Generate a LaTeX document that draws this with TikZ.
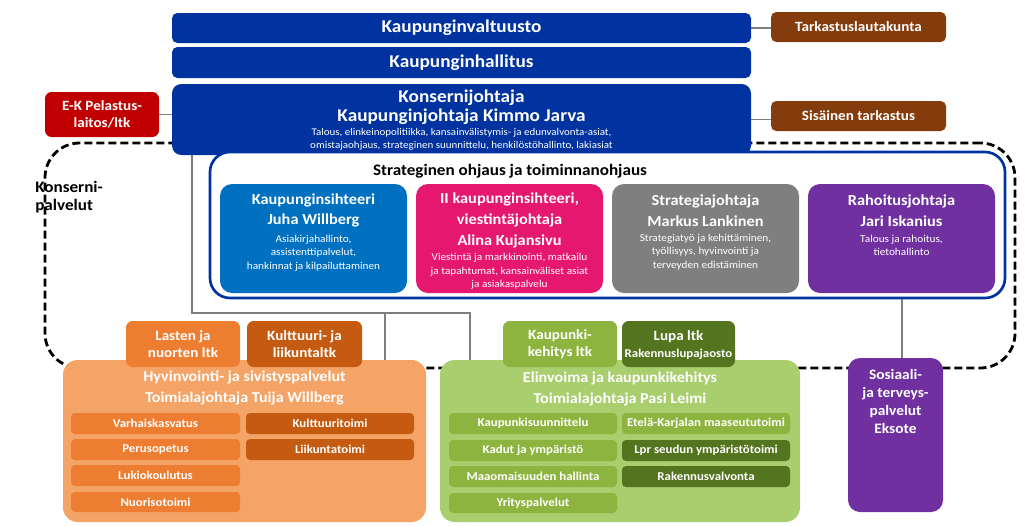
\documentclass[tikz,border=0pt]{standalone}
\usepackage{fontspec}
\setmainfont{Carlito}[FakeStretch=1.07]
\usetikzlibrary{fit}
\pgfdeclarelayer{bg}
\pgfsetlayers{bg,main}
\definecolor{dblue}{HTML}{0033A0}
\definecolor{brownbox}{HTML}{843C0C}
\definecolor{redbox}{HTML}{C00000}
\definecolor{midblue}{HTML}{0070C0}
\definecolor{pinkbox}{HTML}{E5176F}
\definecolor{greybox}{HTML}{7F7F7F}
\definecolor{purplebox}{HTML}{7030A0}
\definecolor{orlight}{HTML}{F4A466}
\definecolor{ormid}{HTML}{ED7D31}
\definecolor{ordark}{HTML}{C55A11}
\definecolor{grlight}{HTML}{A8CE6E}
\definecolor{grmid}{HTML}{8DB43E}
\definecolor{grdark}{HTML}{55741F}
\definecolor{connc}{HTML}{7F7F7F}
\newcommand\fntA{\bfseries\fontsize{13.5}{14.25}\selectfont}
\newcommand\fntB{\fontsize{7.7}{9.75}\selectfont}
\newcommand\fntC{\bfseries\fontsize{10.6}{12.75}\selectfont}
\newcommand\fntD{\bfseries\fontsize{11.45}{15.5}\selectfont}
\newcommand\fntE{\fontsize{7.9}{10.3}\selectfont}
\newcommand\fntF{\bfseries\fontsize{11.3}{15.75}\selectfont}
\newcommand\fntG{\bfseries\fontsize{9}{10}\selectfont}
\newcommand\fntH{\bfseries\fontsize{10.8}{13.5}\selectfont}
\begin{document}
\begin{tikzpicture}[x=0.75pt,y=-0.75pt,
  box/.style={inner sep=0pt, rounded corners=#1},
  box/.default=4pt,
  txt/.style={inner sep=0pt, text=white, align=center},
  conn/.style={draw=connc, line width=0.8pt},
  region/.style={draw=black, line width=2.1pt, dash pattern=on 6pt off 3pt, rounded corners=26pt, inner sep=0pt},
  frame/.style={draw=dblue, line width=2pt, fill=white, rounded corners=15pt, inner sep=0pt}]
\useasboundingbox (0,0) rectangle (1024,525);

% top row
\node[box, fill=dblue, fit={(172,13)(751,43)}, label={[txt,font=\fntA]center:Kaupunginvaltuusto}] (valt) {};
\node[box, fill=dblue, fit={(172,47)(751,78)}, label={[txt,font=\fntA]center:Kaupunginhallitus}] (hall) {};
\node[box=7pt, fill=dblue, fit={(172,84)(751,155)}] (konj) {};
\node[txt, font=\fntA] (konjt) at (461.5,107.5) {Konsernijohtaja\\Kaupunginjohtaja Kimmo Jarva};
\node[txt, font=\fntB] (konjs) at (461.5,139.5) {Talous, elinkeinopolitiikka, kansainvälistymis- ja edunvalvonta-asiat,\\omistajaohjaus, strateginen suunnittelu, henkilöstöhallinto, lakiasiat};
\node[box, fill=brownbox, fit={(771,12)(946,42)}, label={[txt,font=\fntC]center:Tarkastuslautakunta}] (tark) {};
\node[box, fill=brownbox, fit={(771,101)(946,131)}, label={[txt,font=\fntC]center:Sisäinen tarkastus}] (sis) {};
\node[box=5pt, fill=redbox, fit={(45,92)(159,137)}, label={[txt,font=\fntC]center:E-K Pelastus-\\laitos/ltk}] (ek) {};

% konsernipalvelut region
\begin{pgfonlayer}{bg}
\node[region, fit={(45,143)(1015,368)}] (kp) {};
\end{pgfonlayer}
\node[inner sep=0pt, align=left, anchor=west, font=\bfseries\fontsize{12}{13.5}\selectfont] (kplbl) at (35,197) {Konserni-\\palvelut};

% strategic frame
\node[frame, fit={(210,152)(1005,298)}] (sof) {};
\node[inner sep=0pt, font=\bfseries\fontsize{12}{13}\selectfont] (soft) at (510,171) {Strateginen ohjaus ja toiminnanohjaus};

\node[box=9pt, fill=midblue, fit={(220,184)(407,293)}] (ks) {};
\node[txt, font=\fntD] (kst) at (313.5,210.5) {Kaupunginsihteeri\\Juha Willberg};
\node[txt, font=\fntE] (kss) at (313.5,253) {Asiakirjahallinto,\\assistenttipalvelut,\\hankinnat ja kilpailuttaminen};

\node[box=9pt, fill=pinkbox, fit={(416,184)(603,293)}] (ksb) {};
\node[txt, font=\fntD] (ksbt) at (509.5,220.5) {II kaupunginsihteeri,\\viestintäjohtaja\\Alina Kujansivu};
\node[txt, font=\fntE] (ksbs) at (509.5,271.5) {Viestintä ja markkinointi, matkailu\\ja tapahtumat, kansainväliset asiat\\ja asiakaspalvelu};

\node[box=9pt, fill=greybox, fit={(612,184)(799,293)}] (sj) {};
\node[txt, font=\fntD] (sjt) at (705.5,210.5) {Strategiajohtaja\\Markus Lankinen};
\node[txt, font=\fntE] (sjs) at (705.5,252) {Strategiatyö ja kehittäminen,\\työllisyys, hyvinvointi ja\\terveyden edistäminen};

\node[box=9pt, fill=purplebox, fit={(808,184)(995,293)}] (rj) {};
\node[txt, font=\fntD] (rjt) at (901.5,210.5) {Rahoitusjohtaja\\Jari Iskanius};
\node[txt, font=\fntE] (rjs) at (901.5,245.5) {Talous ja rahoitus,\\tietohallinto};

% hyvinvointi
\node[box=11pt, fill=orlight, fit={(63,360)(426,522)}] (hyv) {};
\node[txt, font=\fntF] (hyvt) at (244.5,387.5) {Hyvinvointi- ja sivistyspalvelut\\Toimialajohtaja Tuija Willberg};
\node[box=5pt, fill=ormid, fit={(126,321)(240,367)}, label={[txt,font=\fntC]center:Lasten ja\\nuorten ltk}] (lnl) {};
\node[box=5pt, fill=ordark, fit={(247,321)(362,367)}, label={[txt,font=\fntC]center:Kulttuuri- ja\\liikuntaltk}] (klt) {};
\node[box=3pt, fill=ormid, fit={(71,413)(240,434)}, label={[txt,font=\fntG]center:Varhaiskasvatus}] (vk) {};
\node[box=3pt, fill=ormid, fit={(71,439)(240,460)}, label={[txt,font=\fntG]center:Perusopetus}] (po) {};
\node[box=3pt, fill=ormid, fit={(71,465)(240,486)}, label={[txt,font=\fntG]center:Lukiokoulutus}] (lk) {};
\node[box=3pt, fill=ormid, fit={(71,492)(240,512)}, label={[txt,font=\fntG]center:Nuorisotoimi}] (nt) {};
\node[box=3pt, fill=ordark, fit={(246,413)(414,434)}, label={[txt,font=\fntG]center:Kulttuuritoimi}] (kt) {};
\node[box=3pt, fill=ordark, fit={(246,439)(414,460)}, label={[txt,font=\fntG]center:Liikuntatoimi}] (lt) {};

% elinvoima
\node[box=11pt, fill=grlight, fit={(440,360)(800,522)}] (elin) {};
\node[txt, font=\fntF] (elint) at (620,388.5) {Elinvoima ja kaupunkikehitys\\Toimialajohtaja Pasi Leimi};
\node[box=5pt, fill=grmid, fit={(503,321)(617,367)}, label={[txt,font=\fntC]center:Kaupunki-\\kehitys ltk}] (kk) {};
\node[box=5pt, fill=grdark, fit={(622,321)(735,367)}] (lupa) {};
\node[txt, font=\fntC] (lupat) at (678.5,337) {Lupa ltk};
\node[txt, font=\fntG] (lupas) at (678.5,354) {Rakennuslupajaosto};
\node[box=3pt, fill=grmid, fit={(449,413)(617,434)}, label={[txt,font=\fntG]center:Kaupunkisuunnittelu}] (ksu) {};
\node[box=3pt, fill=grmid, fit={(449,440)(617,461)}, label={[txt,font=\fntG]center:Kadut ja ympäristö}] (ky) {};
\node[box=3pt, fill=grmid, fit={(449,466)(617,487)}, label={[txt,font=\fntG]center:Maaomaisuuden hallinta}] (mh) {};
\node[box=3pt, fill=grmid, fit={(449,493)(617,513)}, label={[txt,font=\fntG]center:Yrityspalvelut}] (yp) {};
\node[box=3pt, fill=grmid, fit={(622,413)(790,434)}, label={[txt,font=\fntG]center:Etelä-Karjalan maaseututoimi}] (ekm) {};
\node[box=3pt, fill=grdark, fit={(622,440)(790,461)}, label={[txt,font=\fntG]center:Lpr seudun ympäristötoimi}] (lpr) {};
\node[box=3pt, fill=grdark, fit={(622,466)(790,487)}, label={[txt,font=\fntG]center:Rakennusvalvonta}] (rv) {};

% sosiaali
\node[box=9pt, fill=purplebox, fit={(848,358)(943,512)}] (sos) {};
\node[txt, font=\fntH] (sost) at (895.5,401) {Sosiaali-\\ja terveys-\\palvelut\\Eksote};

% connectors
\coordinate (j1) at (192,313);
\coordinate (j2) at (385,313);
\coordinate (j3) at (470,313);
\coordinate (j4) at (902,300);
\begin{pgfonlayer}{bg}
\draw[conn] (konj.south -| j1) -- (j1) -- (j3) -- (j3 |- elin.north);
\draw[conn] (j2) -- (j2 |- hyv.north);
\draw[conn] (rj.south -| j4) -- (sos.north -| j4);
\draw[conn] (valt.east) -- (valt.east -| tark.west);
\draw[conn] (konj.east) -- (konj.east -| sis.west);
\draw[conn] (ek.east) -- (ek.east -| konj.west);
\end{pgfonlayer}
\end{tikzpicture}
\end{document}
